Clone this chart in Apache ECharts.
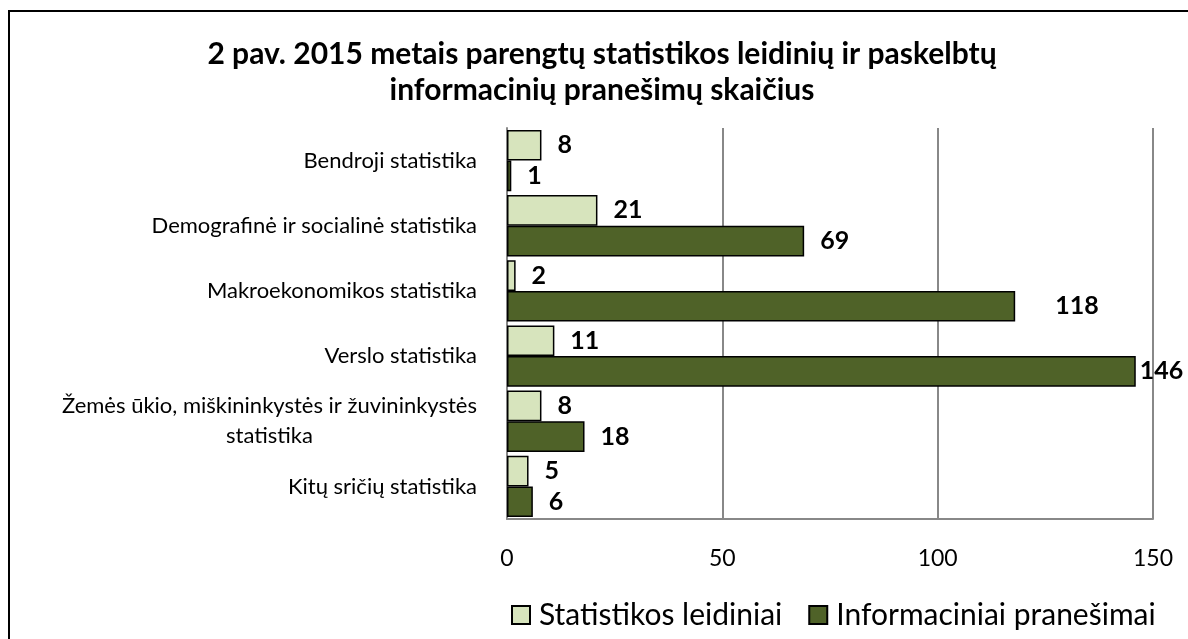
<!DOCTYPE html>
<html>
<head>
<meta charset="utf-8">
<script src="https://cdn.jsdelivr.net/npm/echarts@6/dist/echarts.min.js"></script>
<style>html,body{margin:0;padding:0;background:#fff}#c{width:1188px;height:639px}</style>
</head>
<body>
<div id="c"></div>
<script>
const categories = [
  "Bendroji statistika",
  "Demografinė ir socialinė statistika",
  "Makroekonomikos statistika",
  "Verslo statistika",
  "Žemės ūkio, miškininkystės ir žuvininkystės\nstatistika",
  "Kitų sričių statistika"
];
const seriesNames = ["Statistikos leidiniai", "Informaciniai pranešimai"];
const leidiniai = [8, 21, 2, 11, 8, 5];
const pranesimai = [1, 69, 118, 146, 18, 6];
const xTicks = [0, 50, 100, 150];

const titleText = "2 pav. 2015 metais parengtų statistikos leidinių ir paskelbtų\ninformacinių pranešimų skaičius";
const FONT = "Lato, 'Open Sans', sans-serif";

const chart = echarts.init(document.getElementById('c'));
const labelBase = {show: true, position: 'right', distance: 16, color: '#000', fontWeight: 'bold', fontSize: 25, fontFamily: FONT};

chart.setOption({
  animation: false,
  backgroundColor: '#fff',
  title: {
    text: titleText, left: 597, top: 31, textAlign: 'center',
    textStyle: {fontFamily: FONT, fontSize: 30, fontWeight: 'bold', color: '#000', lineHeight: 36}
  },
  graphic: [{type: 'rect', shape: {x: 9, y: 11, width: 1200, height: 700}, style: {fill: 'none', stroke: '#000', lineWidth: 2}, silent: true}],
  legend: {
    data: seriesNames, left: 506, top: 595, itemWidth: 18, itemHeight: 18, itemGap: 26,
    icon: 'rect',
    textStyle: {fontFamily: FONT, fontSize: 30, color: '#000', padding: [0, 0, 0, 4]}
  },
  grid: {left: 507, right: 35, top: 128, bottom: 120, containLabel: false},
  xAxis: {
    type: 'value', min: 0, max: 150, interval: 50,
    axisLine: {show: true, lineStyle: {color: '#888', width: 2}},
    axisTick: {show: false},
    splitLine: {show: true, lineStyle: {color: '#888', width: 2}},
    axisLabel: {fontFamily: FONT, fontSize: 23, color: '#000', margin: 28,
      formatter: v => xTicks.indexOf(v) >= 0 ? String(v) : ''}
  },
  yAxis: {
    type: 'category', data: categories, inverse: true,
    axisLine: {show: true, lineStyle: {color: '#888', width: 2}},
    axisTick: {show: false},
    axisLabel: {
      margin: 30, fontFamily: FONT, fontSize: 22, color: '#000',
      formatter: v => v.split('\n').map(s => '{c|' + s + '}').join('\n'),
      rich: {c: {align: 'center', fontFamily: FONT, fontSize: 22, color: '#000', lineHeight: 30}}
    }
  },
  series: [
    {
      name: seriesNames[0], type: 'bar', data: leidiniai, barGap: '0%', barCategoryGap: '6%',
      itemStyle: {color: '#d7e4bd', borderColor: '#000', borderWidth: 1.5},
      label: labelBase
    },
    {
      name: seriesNames[1], type: 'bar', data: pranesimai.map((v, i) => {
        const o = {value: v};
        if (v === 118) o.label = {distance: 40};
        if (v === 146) o.label = {distance: 4};
        return o;
      }),
      barGap: '0%', barCategoryGap: '6%',
      itemStyle: {color: '#4f6228', borderColor: '#000', borderWidth: 1.5},
      label: labelBase
    }
  ]
});
</script>
</body>
</html>
